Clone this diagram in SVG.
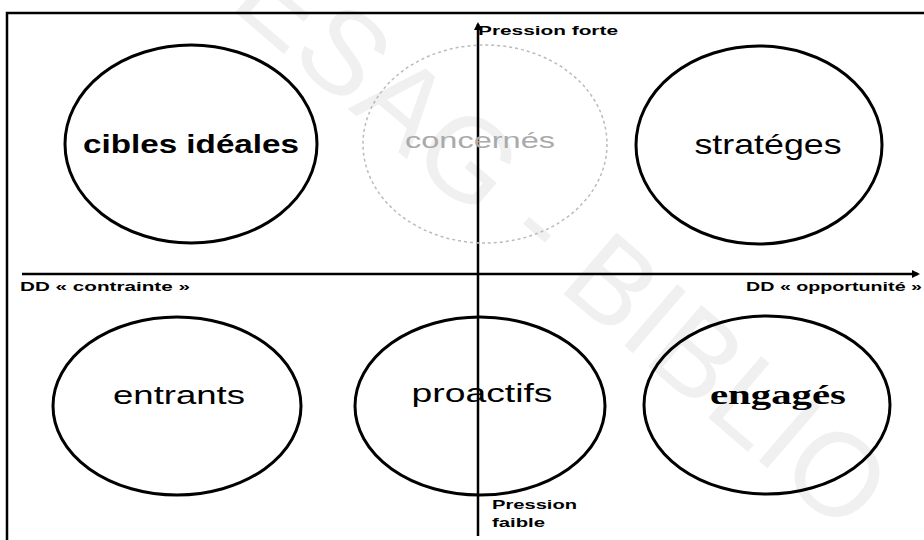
<svg xmlns="http://www.w3.org/2000/svg" width="924" height="540" viewBox="0 0 924 540">
<style>
.ell{fill:none;stroke:#000;stroke-width:3}
.lbl{font-family:"Liberation Sans",Arial,sans-serif;fill:#000;text-anchor:middle}
.ax{font-family:"Liberation Sans",Arial,sans-serif;font-weight:bold;font-size:13px;fill:#000}
.axis{stroke:#000;stroke-width:2.5;fill:none}
</style>
<defs>
<marker id="ah" markerWidth="8" markerHeight="8" refX="6" refY="4" orient="auto" markerUnits="userSpaceOnUse">
<path d="M0,0 L8,4 L0,8 Z" fill="#000"/>
</marker>
</defs>
<rect width="924" height="540" fill="#fff"/>
<text x="0" y="0" transform="translate(228,6) rotate(40.6)" font-family="Liberation Sans,Arial,sans-serif" font-size="118" fill="#f0f0f0">ESAG - BIBLIO</text>
<g id="frame"><path d="M7,540 L7,13 L924,13" fill="none" stroke="#000" stroke-width="2.5"/></g>
<g id="connectors">
<line class="axis" x1="22" y1="274" x2="918" y2="274" marker-end="url(#ah)"/>
<line class="axis" x1="478" y1="536" x2="478" y2="24" marker-end="url(#ah)"/>
</g>
<g id="cibles"><ellipse class="ell" cx="191" cy="144" rx="126" ry="99"/><text class="lbl" x="191" y="153" font-size="26" font-weight="bold" textLength="216" lengthAdjust="spacingAndGlyphs">cibles idéales</text></g>
<g id="concernes"><ellipse cx="485" cy="144" rx="122" ry="99" fill="none" stroke="#bbb" stroke-width="1.5" stroke-dasharray="3 3"/><text class="lbl" x="480" y="148" font-size="22" style="fill:#aaa" textLength="150" lengthAdjust="spacingAndGlyphs">concernés</text></g>
<g id="strateges"><ellipse class="ell" cx="759" cy="145" rx="123" ry="99" stroke-width="2.5"/><text class="lbl" x="768" y="154" font-size="28" textLength="147" lengthAdjust="spacingAndGlyphs">stratéges</text></g>
<g id="entrants"><ellipse class="ell" cx="177" cy="406" rx="124" ry="89"/><text class="lbl" x="179" y="404" font-size="25" textLength="132" lengthAdjust="spacingAndGlyphs">entrants</text></g>
<g id="proactifs"><ellipse class="ell" cx="480" cy="406" rx="125" ry="89"/><text class="lbl" x="482" y="402" font-size="25" textLength="141" lengthAdjust="spacingAndGlyphs">proactifs</text></g>
<g id="engages"><ellipse class="ell" cx="767" cy="405" rx="123" ry="89"/><text class="lbl" x="778" y="404" font-size="28" font-weight="bold" style="font-family:'Liberation Serif',serif" textLength="136" lengthAdjust="spacingAndGlyphs">engagés</text></g>
<g id="axis-labels">
<text class="ax" x="478" y="35" textLength="140" lengthAdjust="spacingAndGlyphs">Pression forte</text>
<text class="ax" x="20" y="291" textLength="170" lengthAdjust="spacingAndGlyphs">DD « contrainte »</text>
<text class="ax" x="746" y="291" textLength="176" lengthAdjust="spacingAndGlyphs">DD « opportunité »</text>
<text class="ax" x="492" y="509" textLength="85" lengthAdjust="spacingAndGlyphs">Pression</text>
<text class="ax" x="492" y="527" textLength="53" lengthAdjust="spacingAndGlyphs">faible</text>
</g>
</svg>
